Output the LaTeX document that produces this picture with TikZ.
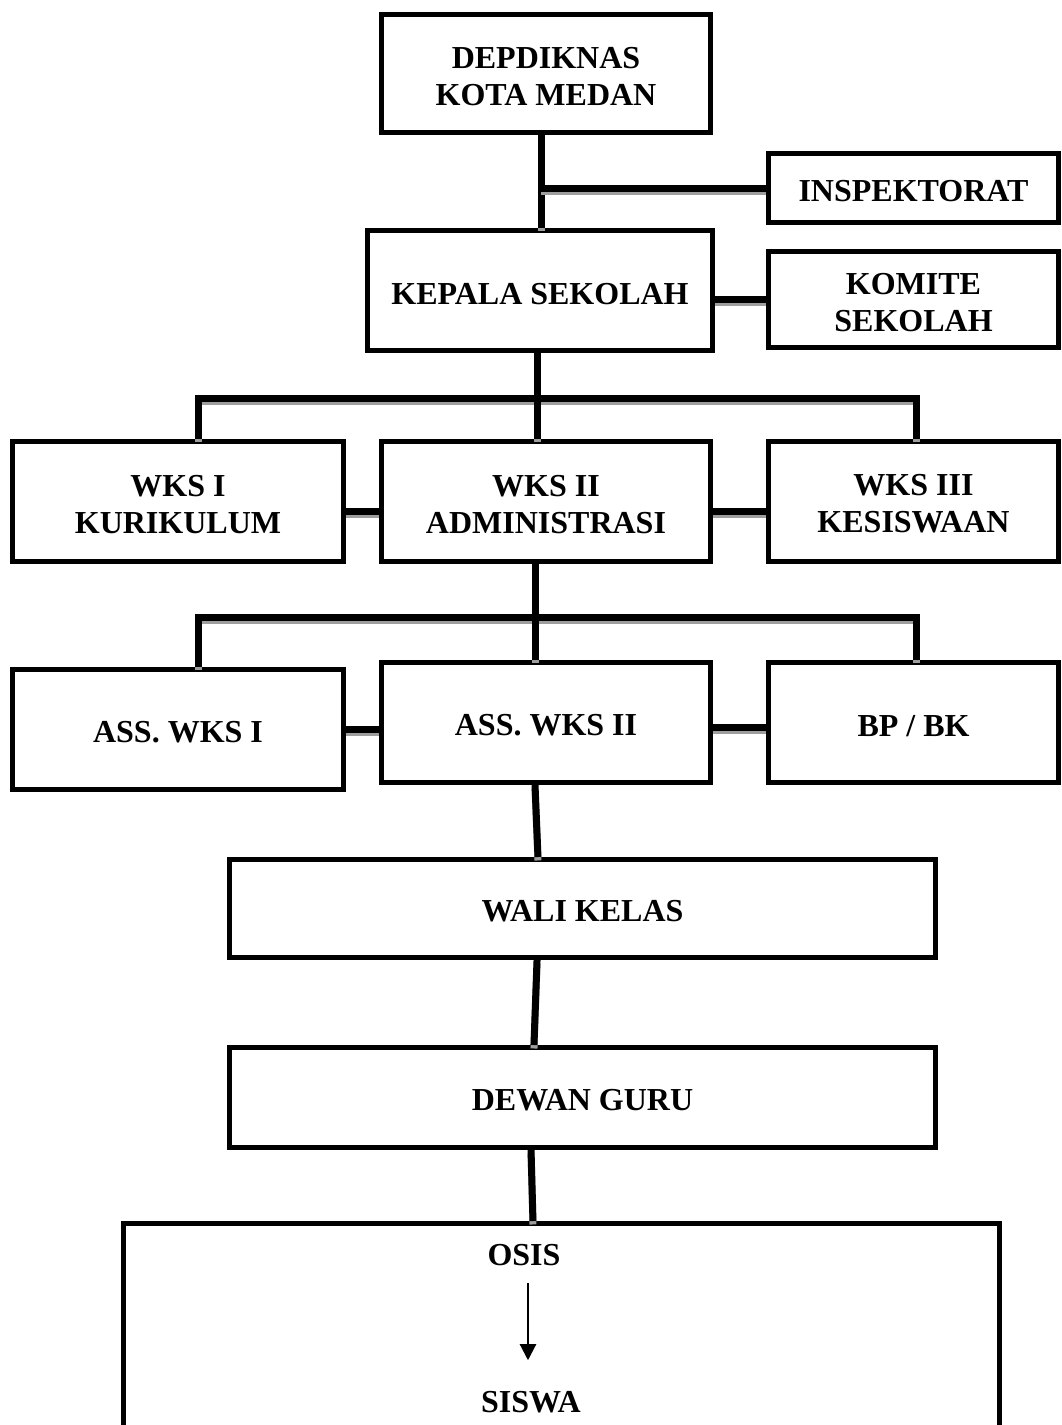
\documentclass[tikz,border=0pt]{standalone}
\usepackage{fontspec}
\setmainfont{Liberation Serif}
\usetikzlibrary{arrows.meta}
\newcommand\fl{\rule{0pt}{20.5pt}}
\begin{document}
\begin{tikzpicture}[x=0.75pt,y=-0.75pt,
 box/.style={draw=black, line width=3.75pt, inner sep=0pt, align=center, font=\bfseries\fontsize{24}{27.75}\selectfont},
 sz/.style 2 args={minimum width=#1*0.75pt, minimum height=#2*0.75pt},
 lbl/.style={inner sep=0pt, font=\bfseries\fontsize{24}{27.75}\selectfont},
 conn/.style={line width=5.25pt, preaction={draw=black!38, line width=5.25pt, transform canvas={yshift=-2.6pt}}},
 arr/.style={line width=1.6pt, -{Triangle[length=12pt,width=12pt]}}
]
\useasboundingbox (0,0) rectangle (1062,1425);
% boxes
\node[box, sz={329}{118}] (dep) at (546,73.5) {\fl DEPDIKNAS\\KOTA MEDAN};
\node[box, sz={290}{69}] (insp) at (913.5,188) {\fl INSPEKTORAT};
\node[box, sz={345}{120}] (kep) at (540,290.5) {\fl KEPALA SEKOLAH};
\node[box, sz={290}{96}] (kom) at (913.5,299.5) {\fl KOMITE\\SEKOLAH};
\node[box, sz={331}{120}] (wk1) at (178,501) {\fl WKS I\\KURIKULUM};
\node[box, sz={329}{120}] (wk2) at (546,501) {\fl WKS II\\ADMINISTRASI};
\node[box, sz={290}{120}] (wk3) at (913.5,501) {\fl WKS III\\KESISWAAN};
\node[box, sz={331}{120}] (aw1) at (178,729.5) {\fl ASS. WKS I};
\node[box, sz={329}{120}] (aw2) at (546,722.5) {\fl ASS. WKS II};
\node[box, sz={290}{120}] (bp) at (913.5,722.5) {\fl BP / BK};
\node[box, sz={706}{98}] (wali) at (582.5,908.5) {\fl WALI KELAS};
\node[box, sz={706}{100}] (dew) at (582.5,1097.5) {\fl DEWAN GURU};
\node[box, sz={876}{226.5}] (sbox) at (561.5,1336.75) {};
\node[lbl] (osis) at (524,1255) {OSIS};
\node[lbl] (siswa) at (531,1402) {SISWA};
% junction coordinates
\coordinate (j1) at (541,188);
\coordinate (b1l) at (198,398);
\coordinate (b1m) at (537,398);
\coordinate (b1r) at (916,398);
\coordinate (b2l) at (198,617);
\coordinate (b2m) at (535,617);
\coordinate (b2r) at (916,617);
% connectors
\draw[conn] (dep.south -| j1) -- (kep.north -| j1);
\draw[conn] (j1) -- (insp.west);
\draw[conn] (kom.west -| kep.east) -- (kom.west);
\draw[conn] (wk1.north -| b1l) -- (b1l) -- (b1r) -- (wk3.north -| b1r);
\draw[conn] (kep.south -| b1m) -- (wk2.north -| b1m);
\draw[conn] ([yshift=-7.5pt]wk1.east) -- ([yshift=-7.5pt]wk2.west);
\draw[conn] ([yshift=-7.5pt]wk2.east) -- ([yshift=-7.5pt]wk3.west);
\draw[conn] (aw1.north -| b2l) -- (b2l) -- (b2r) -- (bp.north -| b2r);
\draw[conn] (wk2.south -| b2m) -- (aw2.north -| b2m);
\draw[conn] (aw1.east) -- (aw1.east -| aw2.west);
\draw[conn] ([yshift=-3.4pt]aw2.east) -- ([yshift=-3.4pt]bp.west);
\draw[conn] ([xshift=-8.25pt]aw2.south) -- ([xshift=-33.4pt]wali.north);
\draw[conn] ([xshift=-34.1pt]wali.south) -- ([xshift=-36.4pt]dew.north);
\draw[conn] ([xshift=-38.6pt]dew.south) -- ([xshift=-21.4pt]sbox.north);
\draw[arr] ([xshift=3pt,yshift=-13pt]osis.south) -- ([xshift=-2.25pt,yshift=23pt]siswa.north);
\end{tikzpicture}
\end{document}
